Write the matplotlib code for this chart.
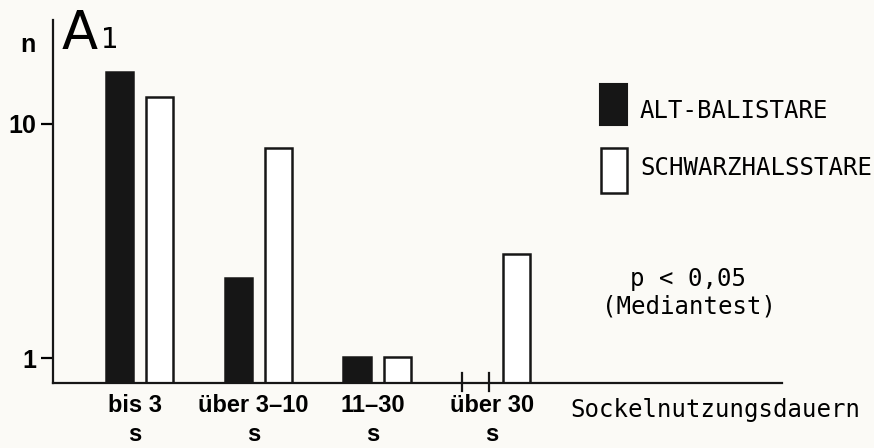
import matplotlib

matplotlib.use("Agg")
import matplotlib.pyplot as plt
import numpy as np

# Sockelnutzungsdauern (Klassen)
categories = ["bis 3\ns", "über 3–10\ns", "11–30\ns", "über 30\ns"]
alt_balistare = [16.7, 2.18, 1.0, 0.0]
schwarzhalsstare = [13.0, 7.9, 1.0, 2.78]
y_ticks = [1, 10]
y_tick_labels = ["1", "10"]

W, H = 874, 448


def draw_bars(ax, x, values, offset, width, filled):
    for xi, v in zip(x, values):
        if v > 0:
            ax.bar(
                xi + offset,
                v,
                width=width,
                bottom=0.01,
                color="#161616" if filled else "white",
                edgecolor="#161616",
                linewidth=1.8,
                zorder=2,
            )
        else:
            # zero count: only two small marks on the axis
            for edge in (xi + offset - width / 2, xi + offset + width / 2):
                ax.plot(
                    [edge, edge],
                    [0.72, 0.86],
                    color="#161616",
                    lw=1.6,
                    clip_on=False,
                    zorder=3,
                )


def main():
    fig = plt.figure(figsize=(W / 100, H / 100), dpi=100)
    fig.patch.set_facecolor("#fbfaf6")
    ax = fig.add_axes([53 / W, 65 / H, (782 - 53) / W, (383 - 20) / H])
    ax.set_facecolor("none")

    x = np.arange(len(categories))
    width = 0.227
    offset = 0.172

    draw_bars(ax, x, alt_balistare, -offset, width, True)
    draw_bars(ax, x, schwarzhalsstare, offset, width, False)

    label_font = dict(family="Liberation Sans", weight="bold")

    ax.set_yscale("log")
    ax.set_ylim(0.782, 27.8)
    ax.set_xlim(-0.727, 5.40)
    ax.set_yticks(y_ticks)
    ax.set_yticklabels(y_tick_labels, fontsize=18, **label_font)
    ax.yaxis.set_minor_locator(matplotlib.ticker.NullLocator())
    ax.tick_params(axis="y", length=9, width=1.6, direction="out", pad=3)

    ax.set_xticks(x - 0.04)
    ax.set_xticklabels(categories, fontsize=17, linespacing=1.3, **label_font)
    ax.tick_params(axis="x", length=0, pad=8)

    for s in ("top", "right"):
        ax.spines[s].set_visible(False)
    for s in ("left", "bottom"):
        ax.spines[s].set_linewidth(1.6)
        ax.spines[s].set_color("#161616")

    mono = "DejaVu Sans Mono"
    fig.text(20 / W, 1 - 45 / H, "n", fontsize=18, ha="left", va="center",
             **label_font)
    fig.text(62 / W, 1 - 49 / H, "A", fontsize=38, ha="left", va="baseline")
    fig.text(101 / W, 1 - 48 / H, "1", fontsize=20, ha="left", va="baseline")

    # legend drawn by hand
    fig.patches.append(
        plt.Rectangle(
            (600 / W, 1 - 125 / H), 27 / W, 41 / H,
            transform=fig.transFigure, facecolor="#161616",
            edgecolor="#161616", lw=1.5,
        )
    )
    fig.patches.append(
        plt.Rectangle(
            (601 / W, 1 - 193 / H), 26 / W, 45 / H,
            transform=fig.transFigure, facecolor="white",
            edgecolor="#161616", lw=1.8,
        )
    )
    fig.text(640 / W, 1 - 111 / H, "ALT-BALISTARE", fontsize=17.3,
             family=mono, va="center")
    fig.text(640 / W, 1 - 168 / H, "SCHWARZHALSSTARE", fontsize=17.3,
             family=mono, va="center")

    fig.text(688 / W, 1 - 279 / H, "p < 0,05", fontsize=17.3, family=mono,
             ha="center", va="center")
    fig.text(689 / W, 1 - 306 / H, "(Mediantest)", fontsize=17.3,
             family=mono, ha="center", va="center")
    fig.text(570 / W, 1 - 410 / H, "Sockelnutzungsdauern", fontsize=17.3,
             family=mono, ha="left", va="center")

    fig.savefig("out.png", dpi=100, facecolor=fig.get_facecolor())


if __name__ == "__main__":
    main()
